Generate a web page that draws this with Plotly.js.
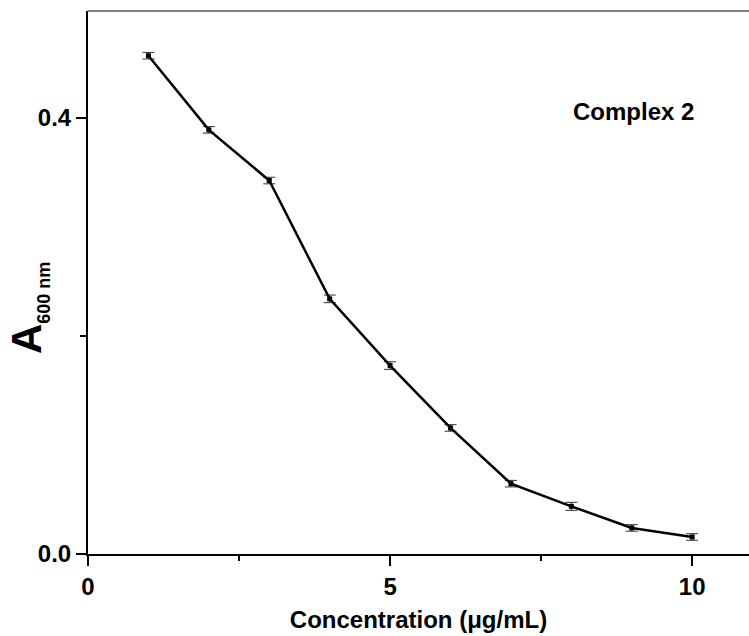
<!DOCTYPE html>
<html>
<head>
<meta charset="utf-8">
<script src="https://cdn.plot.ly/plotly-3.0.1.min.js"></script>
<style>html,body{margin:0;padding:0;background:#fff;}#chart{width:749px;height:636px;}</style>
</head>
<body>
<div id="chart"></div>
<script>
const concentration = [1, 2, 3, 4, 5, 6, 7, 8, 9, 10];
const absorbance = [0.457, 0.389, 0.3425, 0.234, 0.1728, 0.1156, 0.0645, 0.0437, 0.0239, 0.0156];
const absError = [0.003, 0.003, 0.003, 0.0035, 0.0035, 0.003, 0.003, 0.0037, 0.003, 0.003];
const xTickVals = [0, 5, 10];
const yTickVals = [0.0, 0.4];
const seriesLabel = "Complex 2";
const xTitle = "Concentration (\u03bcg/mL)";
const yTitle = 'A<sub><span style="font-size:18px">600 nm</span></sub>';

const font = "Liberation Sans, Arial, sans-serif";

const trace = {
  x: concentration,
  y: absorbance,
  type: "scatter",
  mode: "lines+markers",
  line: {color: "#000", width: 2.5},
  marker: {symbol: "square", size: 5, color: "#000"},
  error_y: {type: "data", array: absError, visible: true, color: "#333", thickness: 1, width: 6}
};

const layout = {
  width: 749, height: 636,
  margin: {l: 88, r: 0, t: 11, b: 82},
  paper_bgcolor: "#fff", plot_bgcolor: "#fff",
  showlegend: false,
  font: {family: font, color: "#000"},
  xaxis: {
    range: [0, 10.94],
    tickvals: xTickVals,
    ticks: "outside", ticklen: 10, tickwidth: 2, tickcolor: "#000",
    showline: true, linewidth: 2, linecolor: "#000",
    showgrid: false, zeroline: false,
    tickfont: {family: font, size: 24, weight: "bold"},
    minor: {dtick: 2.5, tick0: 0, ticks: "outside", ticklen: 5, tickwidth: 2, tickcolor: "#000", showgrid: false},
    title: {text: "<b>" + xTitle + "</b>", font: {family: font, size: 24}, standoff: 12}
  },
  yaxis: {
    range: [0, 0.498],
    tickvals: yTickVals,
    tickformat: ".1f",
    ticks: "outside", ticklen: 10, tickwidth: 2, tickcolor: "#000",
    showline: true, linewidth: 2, linecolor: "#000",
    showgrid: false, zeroline: false,
    tickfont: {family: font, size: 24, weight: "bold"},
    minor: {dtick: 0.2, tick0: 0, ticks: "outside", ticklen: 6, tickwidth: 2, tickcolor: "#000", showgrid: false}
  },
  shapes: [
    {type: "line", xref: "paper", yref: "paper", x0: 0, x1: 1, y0: 1, y1: 1, line: {color: "#555", width: 1.5}}
  ],
  annotations: [
    {xref: "paper", yref: "paper", x: 0.825, y: 0.814, xanchor: "center", yanchor: "middle",
     text: "<b>" + seriesLabel + "</b>", showarrow: false,
     font: {family: font, size: 24, color: "#000"}},
    {xref: "paper", yref: "paper", x: -0.09, y: 0.452, xanchor: "center", yanchor: "middle",
     text: "<b>" + yTitle + "</b>", showarrow: false,
     textangle: -90, font: {family: font, size: 42, color: "#000"}}
  ]
};

Plotly.newPlot("chart", [trace], layout, {displayModeBar: false, staticPlot: true});
</script>
</body>
</html>
